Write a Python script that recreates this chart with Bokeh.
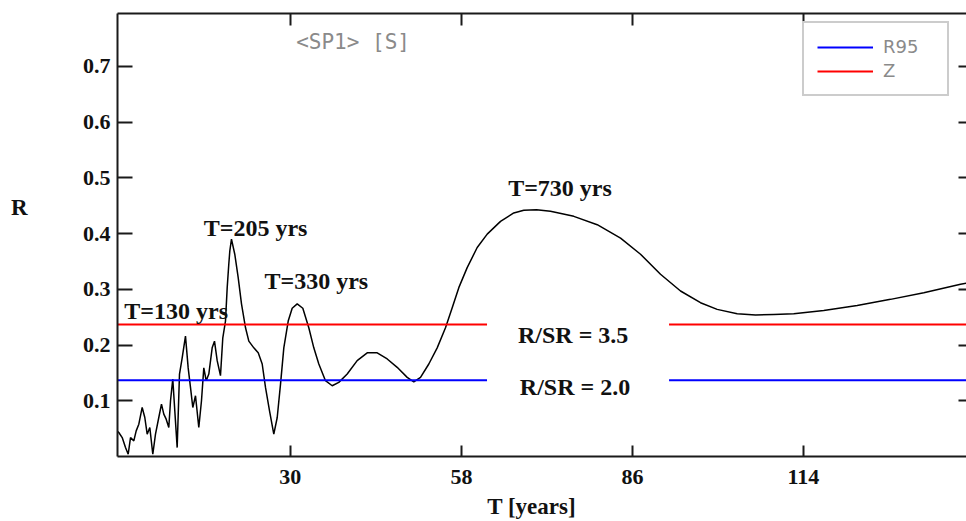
from bokeh.plotting import figure
from bokeh.models import Range1d, LinearAxis, FixedTicker, Label, Legend, LegendItem
from bokeh.embed import file_html
from bokeh.resources import INLINE

# ---- data ----
period = [1.75, 1.91, 2.47, 3.01, 3.45, 3.83, 4.37, 4.76, 5.19, 5.74, 6.17, 6.56, 6.99,
          7.48, 7.92, 8.46, 8.90, 9.28, 9.67, 10.10, 10.38, 10.75, 11.08, 11.47, 11.85,
          12.29, 12.83, 13.27, 13.65, 14.03, 14.47, 15.01, 15.45, 15.83, 16.22, 16.65,
          17.20, 17.58, 18.02, 18.56, 18.94, 19.38, 19.66, 19.92, 20.09, 20.36, 20.90,
          21.46, 22.00, 22.66, 23.20, 24.02, 24.74, 25.39, 25.93, 26.59, 27.29, 27.85,
          28.39, 28.93, 29.65, 30.30, 31.12, 32.04, 33.02, 33.84, 34.66, 35.75, 36.85,
          37.93, 39.31, 40.94, 42.58, 44.22, 45.86, 47.49, 49.13, 50.21, 51.31, 52.67,
          54.04, 55.40, 56.50, 57.58, 58.95, 60.59, 62.23, 64.41, 66.58, 68.22, 70.30,
          72.59, 76.41, 80.24, 84.06, 87.33, 90.60, 93.88, 97.15, 99.88, 103.16, 106.16,
          109.15, 112.42, 117.33, 122.80, 128.26, 133.71, 139.72, 140.70]
r_value = [0.045, 0.043, 0.034, 0.016, 0.004, 0.034, 0.028, 0.046, 0.058, 0.088, 0.070,
           0.040, 0.052, 0.004, 0.040, 0.070, 0.094, 0.076, 0.067, 0.052, 0.100, 0.139,
           0.082, 0.016, 0.148, 0.177, 0.216, 0.159, 0.124, 0.088, 0.109, 0.052, 0.100,
           0.159, 0.136, 0.148, 0.195, 0.207, 0.172, 0.145, 0.213, 0.243, 0.303, 0.345,
           0.369, 0.390, 0.363, 0.321, 0.274, 0.231, 0.207, 0.195, 0.186, 0.166, 0.124,
           0.082, 0.040, 0.070, 0.130, 0.195, 0.243, 0.266, 0.274, 0.266, 0.231, 0.195,
           0.166, 0.136, 0.127, 0.133, 0.148, 0.172, 0.186, 0.186, 0.175, 0.160, 0.142,
           0.134, 0.142, 0.166, 0.195, 0.231, 0.267, 0.303, 0.339, 0.375, 0.399, 0.422,
           0.437, 0.442, 0.443, 0.440, 0.431, 0.416, 0.392, 0.363, 0.327, 0.297, 0.276,
           0.264, 0.256, 0.254, 0.255, 0.256, 0.262, 0.271, 0.282, 0.294, 0.309, 0.311]

r95_level = 0.137          # R/SR = 2.0
z_level = 0.237            # R/SR = 3.5
level_spans = [[1.7, 62.2], [92.0, 140.7]]   # T extent of the level lines (gap holds the label)

x_ticks = [30, 58, 86, 114]
y_ticks = [0.1, 0.2, 0.3, 0.4, 0.5, 0.6, 0.7]
peak_labels = ["T=130 yrs", "T=205 yrs", "T=330 yrs", "T=730 yrs"]
level_labels = ["R/SR = 3.5", "R/SR = 2.0"]
legend_labels = ["R95", "Z"]
title_text = "<SP1>  [S]"
x_title = "T [years]"
y_title = "R"

SERIF = "Liberation Serif"

p = figure(width=966, height=521, output_backend="svg", toolbar_location=None,
           x_range=Range1d(1.7, 140.7), y_range=Range1d(0, 0.795),
           min_border_left=117, min_border_right=0, min_border_top=13, min_border_bottom=65,
           x_axis_location=None, y_axis_location=None)
p.outline_line_color = None
p.xgrid.visible = False
p.ygrid.visible = False
p.background_fill_color = "white"
p.border_fill_color = "white"

def style_axis(ax, ticks, tick_in, show_labels=True, show_line=True):
    ax.ticker = FixedTicker(ticks=ticks)
    ax.minor_tick_line_color = None
    ax.major_tick_in = tick_in
    ax.major_tick_out = 0
    ax.major_tick_line_width = 2
    ax.major_tick_line_color = "#1a1a1a"
    ax.axis_line_width = 2
    ax.axis_line_color = "#1a1a1a" if show_line else None
    if show_labels:
        ax.major_label_text_font = SERIF
        ax.major_label_text_font_style = "bold"
        ax.major_label_text_font_size = "22px"
        ax.major_label_text_color = "#111111"
    else:
        ax.major_label_overrides = {t: "" for t in ticks}
        ax.major_label_text_font_size = "1px"
        ax.major_label_standoff = 0

def title_axis(ax, pos, txt, standoff):
    # an axis carrying only one label: the axis title at its place in the reference
    ax.ticker = FixedTicker(ticks=[pos])
    ax.major_label_overrides = {pos: txt}
    ax.major_label_text_font = SERIF
    ax.major_label_text_font_style = "bold"
    ax.major_label_text_font_size = "23px"
    ax.major_label_text_color = "#111111"
    ax.major_label_standoff = standoff
    ax.major_tick_line_color = None
    ax.minor_tick_line_color = None
    ax.axis_line_color = None

bottom = LinearAxis()
style_axis(bottom, x_ticks, 11)
bottom.major_label_standoff = 13
p.add_layout(bottom, "below")

left = LinearAxis()
style_axis(left, y_ticks, 15)
left.major_label_standoff = 7
p.add_layout(left, "left")

top = LinearAxis()
style_axis(top, x_ticks, 12, show_labels=False)
p.add_layout(top, "above")

right = LinearAxis()
style_axis(right, y_ticks, 8, show_labels=False, show_line=False)
p.add_layout(right, "right")

x_title_axis = LinearAxis()
title_axis(x_title_axis, 69.5, x_title, 1)
p.add_layout(x_title_axis, "below")

y_title_axis = LinearAxis()
title_axis(y_title_axis, 0.446, y_title, 46)
p.add_layout(y_title_axis, "left")

# spectrum curve
p.line(period, r_value, line_color="black", line_width=1.5)

# significance levels
blue = p.multi_line(level_spans, [[r95_level] * 2] * 2, line_color="#0000ff", line_width=2)
red = p.multi_line(level_spans, [[z_level] * 2] * 2, line_color="#ff0000", line_width=2)

legend = Legend(items=[LegendItem(label=legend_labels[0], renderers=[blue]),
                       LegendItem(label=legend_labels[1], renderers=[red])],
                location=(685, 360), margin=0, padding=13, spacing=3,
                glyph_width=56, glyph_height=20, label_height=20, label_width=51,
                label_standoff=10, label_text_font="DejaVu Sans",
                label_text_font_size="18px", label_text_color="#8a8a8a",
                border_line_color="#9a9a9a", border_line_width=2,
                background_fill_color="white", background_fill_alpha=1)
p.add_layout(legend)

def add_text(txt, x, y, size="24px", align="center", baseline="alphabetic",
             font=SERIF, style="bold", color="#111111"):
    p.add_layout(Label(x=x, y=y, text=txt, text_font=font, text_font_style=style,
                       text_font_size=size, text_align=align, text_baseline=baseline,
                       text_color=color))

add_text(peak_labels[0], 11.3, 0.261)
add_text(peak_labels[1], 24.3, 0.410)
add_text(peak_labels[2], 34.25, 0.315)
add_text(peak_labels[3], 74.15, 0.482)
add_text(level_labels[0], 76.3, 0.218)
add_text(level_labels[1], 76.6, 0.124)
add_text(title_text, 41.3, 0.743, size="21px", baseline="middle",
         font="DejaVu Sans Mono", style="normal", color="#8a8a8a")

open("out.html", "w").write(file_html(p, INLINE))
